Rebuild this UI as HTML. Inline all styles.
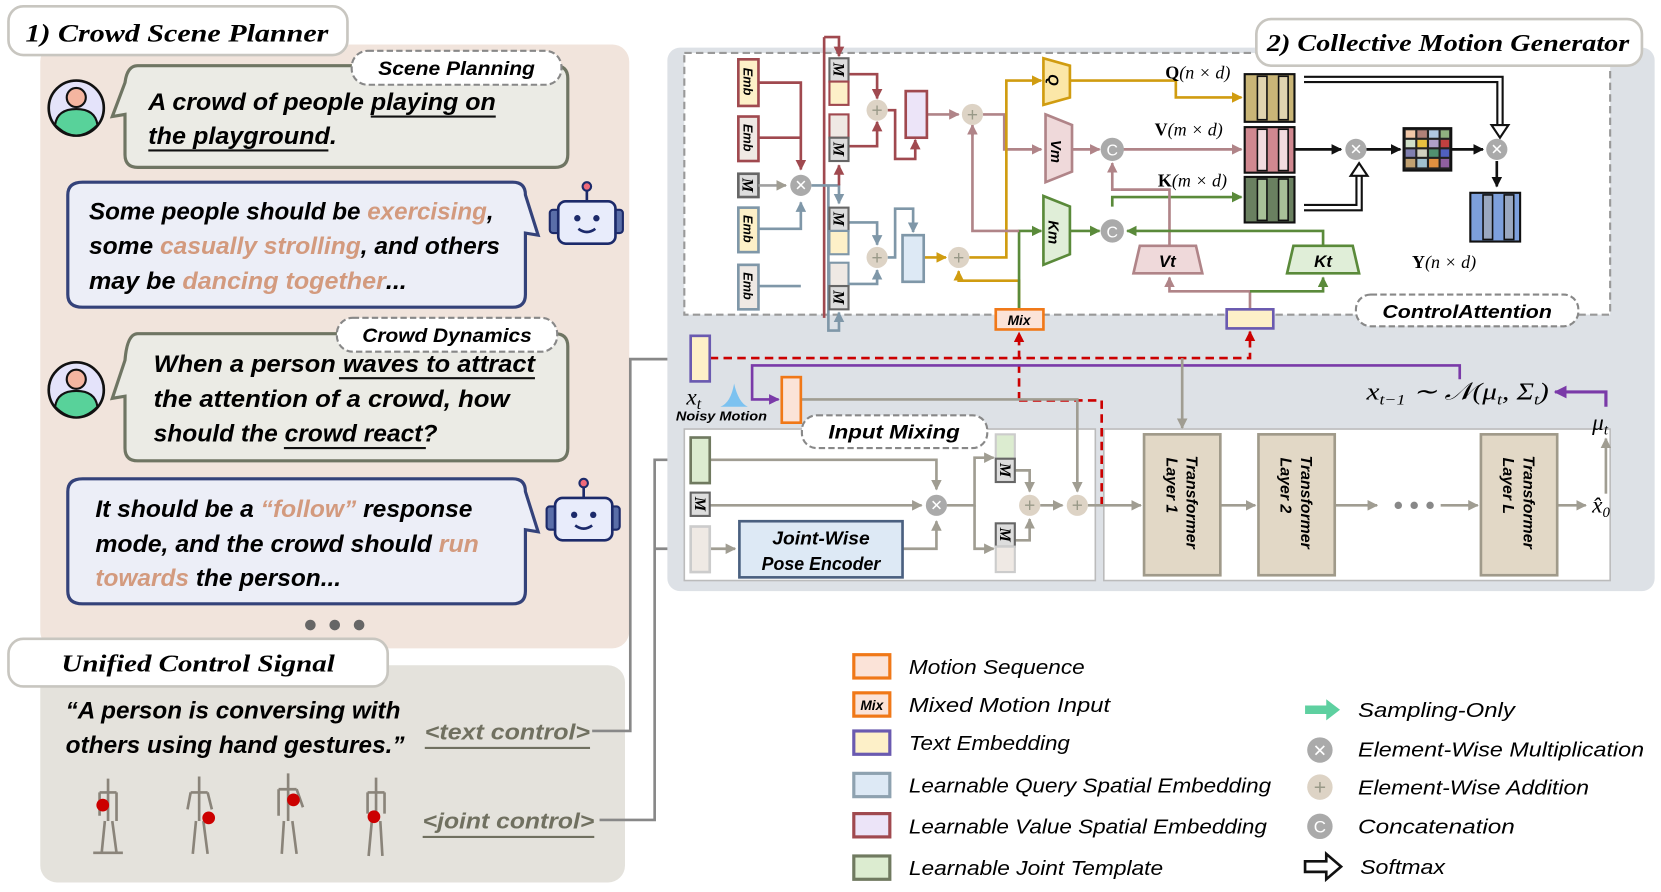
<!DOCTYPE html>
<html><head><meta charset="utf-8"><style>
html,body{margin:0;padding:0;background:#fff;width:1661px;height:892px;overflow:hidden}
svg{display:block}
.t{font-family:"Liberation Sans",sans-serif;font-style:italic;font-weight:bold}
.ts{font-family:"Liberation Serif",serif;font-style:italic;font-weight:bold}
.n{font-family:"Liberation Sans",sans-serif;font-style:italic}
.s{font-family:"Liberation Serif",serif}
.m{font-family:"Liberation Serif",serif;font-style:italic;font-weight:bold}
</style></head><body>
<svg width="1661" height="892" viewBox="0 0 1568 842" preserveAspectRatio="none" xmlns="http://www.w3.org/2000/svg">
<defs>
<marker id="ar" viewBox="0 0 10 10" refX="9" refY="5" markerWidth="4" markerHeight="4" orient="auto"><path d="M0,0L10,5L0,10z" fill="#a0494f"/></marker>
<marker id="ab" viewBox="0 0 10 10" refX="9" refY="5" markerWidth="4" markerHeight="4" orient="auto"><path d="M0,0L10,5L0,10z" fill="#7f97a8"/></marker>
<marker id="ay" viewBox="0 0 10 10" refX="9" refY="5" markerWidth="4" markerHeight="4" orient="auto"><path d="M0,0L10,5L0,10z" fill="#d09c10"/></marker>
<marker id="ag" viewBox="0 0 10 10" refX="9" refY="5" markerWidth="4" markerHeight="4" orient="auto"><path d="M0,0L10,5L0,10z" fill="#5a8a3a"/></marker>
<marker id="am" viewBox="0 0 10 10" refX="9" refY="5" markerWidth="4" markerHeight="4" orient="auto"><path d="M0,0L10,5L0,10z" fill="#b08488"/></marker>
<marker id="aw" viewBox="0 0 10 10" refX="9" refY="5" markerWidth="4" markerHeight="4" orient="auto"><path d="M0,0L10,5L0,10z" fill="#a09d92"/></marker>
<marker id="ak" viewBox="0 0 10 10" refX="9" refY="5" markerWidth="4" markerHeight="4" orient="auto"><path d="M0,0L10,5L0,10z" fill="#111"/></marker>
<marker id="ap" viewBox="0 0 10 10" refX="9" refY="5" markerWidth="4" markerHeight="4" orient="auto"><path d="M0,0L10,5L0,10z" fill="#7a3aa8"/></marker>
<marker id="ad" viewBox="0 0 10 10" refX="9" refY="5" markerWidth="4" markerHeight="4" orient="auto"><path d="M0,0L10,5L0,10z" fill="#c00"/></marker>
<marker id="ae" viewBox="0 0 10 10" refX="9" refY="5" markerWidth="4" markerHeight="4" orient="auto"><path d="M0,0L10,5L0,10z" fill="#888"/></marker>
</defs>

<!-- LEFT PANEL -->
<rect x="38" y="42" width="556" height="570" rx="16" fill="#f1e4dc"/>
<rect x="38" y="628" width="552" height="205" rx="16" fill="#e4e2dc"/>
<rect x="8" y="6" width="320" height="46" rx="14" fill="#fff" stroke="#c8c6c0" stroke-width="2.5"/>
<text x="24" y="39" class="ts" font-size="24" textLength="286" lengthAdjust="spacingAndGlyphs">1) Crowd Scene Planner</text>

<!-- bubble 1 -->
<path d="M130,62 H524 Q536,62 536,74 V146 Q536,158 524,158 H130 Q118,158 118,146 V108 L106,110 L118,78 Q120,62 130,62z" fill="#ebebe5" stroke="#6f7563" stroke-width="3"/>
<rect x="332" y="48" width="198" height="32" rx="15" fill="#fff" stroke="#888" stroke-width="2" stroke-dasharray="6,3"/>
<text x="431" y="71" class="t" font-size="18" text-anchor="middle" textLength="148" lengthAdjust="spacingAndGlyphs">Scene Planning</text>
<text x="140" y="104" class="t" font-size="23" textLength="328" lengthAdjust="spacingAndGlyphs">A crowd of people playing on</text>
<text x="140" y="136" class="t" font-size="23" textLength="178" lengthAdjust="spacingAndGlyphs">the playground.</text>
<line x1="350" y1="110" x2="468" y2="110" stroke="#111" stroke-width="2"/>
<line x1="140" y1="142" x2="310" y2="142" stroke="#111" stroke-width="2"/>

<g id="av1"><circle cx="72" cy="102" r="26" fill="#e4e3fa" stroke="#111" stroke-width="2.5"/>
<circle cx="72" cy="92" r="9" fill="#f4b5a0" stroke="#111" stroke-width="2"/>
<path d="M52,118 Q54,103 72,103 Q90,103 92,118 Q82,128 72,128 Q62,128 52,118z" fill="#58d29a" stroke="#111" stroke-width="2"/></g>
<use href="#av1" y="266"/>

<!-- bubble 2 -->
<path d="M78,172 H484 Q496,172 496,184 L508,222 L496,220 V278 Q496,290 484,290 H78 Q64,290 64,278 V184 Q64,172 78,172z" fill="#eceef7" stroke="#34427a" stroke-width="3"/>
<text x="84" y="207" class="t" font-size="23" textLength="382" lengthAdjust="spacingAndGlyphs">Some people should be <tspan fill="#d39a7e">exercising</tspan>,</text>
<text x="84" y="240" class="t" font-size="23" textLength="388" lengthAdjust="spacingAndGlyphs">some <tspan fill="#d39a7e">casually strolling</tspan>, and others</text>
<text x="84" y="273" class="t" font-size="23" textLength="300" lengthAdjust="spacingAndGlyphs">may be <tspan fill="#d39a7e">dancing together</tspan>...</text>

<g id="rb"><line x1="554" y1="178" x2="554" y2="192" stroke="#1c2a6a" stroke-width="2.5"/><circle cx="554" cy="176" r="4" fill="#f06a7a" stroke="#1c2a6a" stroke-width="2"/>
<rect x="519" y="198" width="10" height="22" rx="3" fill="#5a6ea8" stroke="#1c2a6a" stroke-width="2"/>
<rect x="578" y="198" width="10" height="22" rx="3" fill="#5a6ea8" stroke="#1c2a6a" stroke-width="2"/>
<rect x="527" y="190" width="54" height="40" rx="7" fill="#e8ecfb" stroke="#1c2a6a" stroke-width="2.5"/>
<circle cx="545" cy="206" r="3" fill="#1c2a6a"/><circle cx="563" cy="206" r="3" fill="#1c2a6a"/>
<path d="M546,216 Q554,222 562,216" fill="none" stroke="#1c2a6a" stroke-width="2.5"/></g>
<use href="#rb" x="-3" y="280"/>

<!-- bubble 3 -->
<path d="M130,315 H524 Q536,315 536,327 V423 Q536,435 524,435 H130 Q118,435 118,423 V374 L106,376 L118,340 Q120,315 130,315z" fill="#ebebe5" stroke="#6f7563" stroke-width="3"/>
<rect x="318" y="300" width="208" height="32" rx="15" fill="#fff" stroke="#888" stroke-width="2" stroke-dasharray="6,3"/>
<text x="422" y="323" class="t" font-size="18" text-anchor="middle" textLength="160" lengthAdjust="spacingAndGlyphs">Crowd Dynamics</text>
<text x="145" y="351" class="t" font-size="23" textLength="360" lengthAdjust="spacingAndGlyphs">When a person waves to attract</text>
<text x="145" y="384" class="t" font-size="23" textLength="336" lengthAdjust="spacingAndGlyphs">the attention of a crowd, how</text>
<text x="145" y="417" class="t" font-size="23" textLength="268" lengthAdjust="spacingAndGlyphs">should the crowd react?</text>
<line x1="320" y1="357" x2="505" y2="357" stroke="#111" stroke-width="2"/>
<line x1="268" y1="423" x2="402" y2="423" stroke="#111" stroke-width="2"/>

<!-- bubble 4 -->
<path d="M78,452 H484 Q496,452 496,464 L508,502 L496,500 V558 Q496,570 484,570 H78 Q64,570 64,558 V464 Q64,452 78,452z" fill="#eceef7" stroke="#34427a" stroke-width="3"/>
<text x="90" y="488" class="t" font-size="23" textLength="356" lengthAdjust="spacingAndGlyphs">It should be a <tspan fill="#d39a7e">“follow”</tspan> response</text>
<text x="90" y="521" class="t" font-size="23" textLength="362" lengthAdjust="spacingAndGlyphs">mode, and the crowd should <tspan fill="#d39a7e">run</tspan></text>
<text x="90" y="553" class="t" font-size="23" textLength="232" lengthAdjust="spacingAndGlyphs"><tspan fill="#d39a7e">towards</tspan> the person...</text>

<circle cx="293" cy="590" r="5" fill="#666"/><circle cx="316" cy="590" r="5" fill="#666"/><circle cx="339" cy="590" r="5" fill="#666"/>

<rect x="8" y="603" width="358" height="45" rx="14" fill="#fff" stroke="#c8c6c0" stroke-width="2.5"/>
<text x="58" y="634" class="ts" font-size="23" textLength="258" lengthAdjust="spacingAndGlyphs">Unified Control Signal</text>
<text x="62" y="678" class="t" font-size="23" textLength="316" lengthAdjust="spacingAndGlyphs">“A person is conversing with</text>
<text x="62" y="711" class="t" font-size="23" textLength="320" lengthAdjust="spacingAndGlyphs">others using hand gestures.”</text>
<text x="401" y="698" class="t" font-size="21" fill="#707060" textLength="156" lengthAdjust="spacingAndGlyphs">&lt;text control&gt;</text>
<line x1="401" y1="706" x2="557" y2="706" stroke="#707060" stroke-width="2"/>
<text x="399" y="782" class="t" font-size="21" fill="#707060" textLength="162" lengthAdjust="spacingAndGlyphs">&lt;joint control&gt;</text>
<line x1="399" y1="790" x2="561" y2="790" stroke="#707060" stroke-width="2"/>
<g stroke="#8a847a" stroke-width="2.5" fill="none">
<path d="M102,735 V775 M94,748 H110 M94,748 V770 M110,748 V775 M99,775 L96,805 M106,775 L110,805 M88,805 H116"/>
<path d="M188,733 V775 M180,748 H196 M180,748 L177,764 M196,748 L200,764 M185,775 L182,806 M192,775 L196,806"/>
<path d="M272,730 V775 M263,745 H280 M263,745 V770 M280,745 L286,762 M268,775 L266,806 M276,775 L280,806"/>
<path d="M355,734 V775 M347,748 H363 M347,748 V768 M363,748 V768 M351,775 L348,808 M359,775 L361,808"/>
</g>
<circle cx="97" cy="760" r="6" fill="#c00"/><circle cx="197" cy="772" r="6" fill="#c00"/>
<circle cx="277" cy="755" r="6" fill="#c00"/><circle cx="353" cy="771" r="6" fill="#c00"/>
<path d="M559,690 H595 V339 H650" fill="none" stroke="#888" stroke-width="2.5" marker-end="url(#ae)"/>
<path d="M566,774 H618 V434 H650" fill="none" stroke="#888" stroke-width="2.5" marker-end="url(#ae)"/>
<path d="M618,518 H650" fill="none" stroke="#888" stroke-width="2.5" marker-end="url(#ae)"/>

<!-- RIGHT PANEL -->
<rect x="630" y="45" width="932" height="513" rx="12" fill="#dde1e6"/>
<rect x="646" y="50" width="874" height="247" fill="#fff" stroke="#999" stroke-width="2" stroke-dasharray="7,4"/>
<rect x="646" y="405" width="388" height="143" fill="#fff" stroke="#bbb" stroke-width="1.5"/>
<rect x="1042" y="405" width="478" height="143" fill="#fff" stroke="#bbb" stroke-width="1.5"/>
<rect x="1186" y="18" width="364" height="44" rx="14" fill="#fff" stroke="#c8c6c0" stroke-width="2.5"/>
<text x="1196" y="48" class="ts" font-size="23" textLength="342" lengthAdjust="spacingAndGlyphs">2) Collective Motion Generator</text>

<g font-size="12" class="t">
<rect x="697" y="56" width="19" height="44" fill="#fdf0c8" stroke="#a0494f" stroke-width="2.5"/>
<rect x="697" y="110" width="19" height="42" fill="#efe9e4" stroke="#a0494f" stroke-width="2.5"/>
<rect x="697" y="164" width="19" height="22" fill="#ddd" stroke="#666" stroke-width="2.5"/>
<rect x="697" y="196" width="19" height="42" fill="#fdf0c8" stroke="#7f97a8" stroke-width="2.5"/>
<rect x="697" y="250" width="19" height="42" fill="#efe9e4" stroke="#7f97a8" stroke-width="2.5"/>
<text transform="translate(702,64) rotate(90)">Emb</text>
<text transform="translate(702,117) rotate(90)">Emb</text>
<text transform="translate(702,203) rotate(90)">Emb</text>
<text transform="translate(702,257) rotate(90)">Emb</text>
<text transform="translate(701,168) rotate(90)" class="m" font-size="15">M</text>
</g>
<g fill="none" stroke-width="2.5">
<path d="M716,78 H756 V160" stroke="#a0494f" marker-end="url(#ar)"/>
<path d="M716,130 H756" stroke="#a0494f"/>
<path d="M716,216 H756 V191" stroke="#7f97a8" marker-end="url(#ab)"/>
<path d="M716,270 H756" stroke="#7f97a8"/>
<path d="M716,175 H742" stroke="#a0a0a0" marker-end="url(#aw)"/>
<path d="M778,35 V300" stroke="#a0494f"/>
<path d="M778,35 H792 V53" stroke="#a0494f" marker-end="url(#ar)"/>
<path d="M766,175 H792 V192" stroke="#7f97a8" marker-end="url(#ab)"/>
<path d="M792,175 V156" stroke="#a0494f" marker-end="url(#ar)"/>
<path d="M782,175 V312 H792 V295" stroke="#7f97a8" marker-end="url(#ab)"/>
<path d="M801,70 H828 V93" stroke="#a0494f" marker-end="url(#ar)"/>
<path d="M801,138 H828 V115" stroke="#a0494f" marker-end="url(#ar)"/>
<path d="M838,104 H845 V150 H864 V132" stroke="#a0494f" marker-end="url(#ar)"/>
<path d="M875,108 H905" stroke="#b08488" marker-end="url(#am)"/>
<path d="M928,108 H948 V141 H983" stroke="#b08488" marker-end="url(#am)"/>
<path d="M801,210 H828 V231" stroke="#7f97a8" marker-end="url(#ab)"/>
<path d="M801,268 H828 V255" stroke="#7f97a8" marker-end="url(#ab)"/>
<path d="M838,243 H845 V197 H862 V219" stroke="#7f97a8" marker-end="url(#ab)"/>
<path d="M872,243 H893" stroke="#d09c10" marker-end="url(#ay)"/>
<path d="M915,243 H950 V76 H983" stroke="#d09c10" marker-end="url(#ay)"/>
<path d="M962,292 V265 H905 V256" stroke="#d09c10" marker-end="url(#ay)"/>
<path d="M962,292 V218 H983" stroke="#5a8a3a" marker-end="url(#ag)"/>
<path d="M918,120 V218 H962" stroke="#b08488"/>
<path d="M918,128 V118" stroke="#b08488" marker-end="url(#am)"/>
<path d="M1012,141 H1038" stroke="#b08488" marker-end="url(#am)"/>
<path d="M1010,218 H1038" stroke="#5a8a3a" marker-end="url(#ag)"/>
<path d="M1010,76 H1110 V92 H1172" stroke="#d09c10" marker-end="url(#ay)"/>
<path d="M1060,141 H1172" stroke="#b08488" marker-end="url(#am)"/>
<path d="M1050,195 V186 H1172" stroke="#5a8a3a" marker-end="url(#ag)"/>
<path d="M1104,232 V179 H1050 V154" stroke="#b08488" marker-end="url(#am)"/>
<path d="M1249,232 V218 H1064" stroke="#5a8a3a" marker-end="url(#ag)"/>
<path d="M1180,292 V275 H1104 V262" stroke="#b08488" marker-end="url(#am)"/>
<path d="M1180,275 H1249 V262" stroke="#5a8a3a" marker-end="url(#ag)"/>
<path d="M1222,141 H1266" stroke="#111" marker-end="url(#ak)"/>
<path d="M1290,141 H1322" stroke="#111" marker-end="url(#ak)"/>
<path d="M1370,141 H1400" stroke="#111" marker-end="url(#ak)"/>
<path d="M1413,152 V176" stroke="#111" marker-end="url(#ak)"/>
</g>
<path d="M1231,75 H1416 V118" fill="none" stroke="#111" stroke-width="7"/>
<path d="M1231,75 H1416 V118" fill="none" stroke="#fff" stroke-width="3"/>
<path d="M1408,118 L1424,118 L1416,130z" fill="#fff" stroke="#111" stroke-width="2"/>
<path d="M1231,196 H1283 V166" fill="none" stroke="#111" stroke-width="7"/>
<path d="M1231,196 H1283 V166" fill="none" stroke="#fff" stroke-width="3"/>
<path d="M1275,166 L1291,166 L1283,154z" fill="#fff" stroke="#111" stroke-width="2"/>

<g class="m" font-size="15">
<rect x="783" y="55" width="18" height="22" fill="#ddd" stroke="#666" stroke-width="2"/><rect x="783" y="77" width="18" height="22" fill="#fdf0c8" stroke="#a0494f" stroke-width="2"/>
<rect x="783" y="108" width="18" height="22" fill="#efe9e4" stroke="#a0494f" stroke-width="2"/><rect x="783" y="130" width="18" height="22" fill="#ddd" stroke="#666" stroke-width="2"/>
<rect x="783" y="196" width="18" height="22" fill="#ddd" stroke="#666" stroke-width="2"/><rect x="783" y="218" width="18" height="22" fill="#fdf0c8" stroke="#7f97a8" stroke-width="2"/>
<rect x="783" y="248" width="18" height="22" fill="#efe9e4" stroke="#7f97a8" stroke-width="2"/><rect x="783" y="270" width="18" height="22" fill="#ddd" stroke="#666" stroke-width="2"/>
<text transform="translate(787,59) rotate(90)">M</text><text transform="translate(787,134) rotate(90)">M</text>
<text transform="translate(787,200) rotate(90)">M</text><text transform="translate(787,274) rotate(90)">M</text>
</g>
<rect x="855" y="86" width="20" height="44" fill="#ece4f8" stroke="#a0494f" stroke-width="2.5"/>
<rect x="852" y="222" width="20" height="44" fill="#dde9f5" stroke="#7f97a8" stroke-width="2.5"/>

<g font-family="Liberation Sans" text-anchor="middle" fill="#fff">
<circle cx="756" cy="175" r="10" fill="#aaa"/><text x="756" y="180" font-size="14">✕</text>
<circle cx="828" cy="104" r="10" fill="#ddd3c5"/><text x="828" y="110" font-size="18" fill="#998">+</text>
<circle cx="828" cy="243" r="10" fill="#ddd3c5"/><text x="828" y="249" font-size="18" fill="#998">+</text>
<circle cx="918" cy="108" r="10" fill="#ddd3c5"/><text x="918" y="114" font-size="18" fill="#998">+</text>
<circle cx="905" cy="243" r="10" fill="#ddd3c5"/><text x="905" y="249" font-size="18" fill="#998">+</text>
<circle cx="1050" cy="141" r="11" fill="#aaa"/><text x="1050" y="147" font-size="15">C</text>
<circle cx="1050" cy="218" r="11" fill="#aaa"/><text x="1050" y="224" font-size="15">C</text>
<circle cx="1280" cy="141" r="10" fill="#aaa"/><text x="1280" y="146" font-size="14">✕</text>
<circle cx="1413" cy="141" r="10" fill="#aaa"/><text x="1413" y="146" font-size="14">✕</text>
<circle cx="884" cy="477" r="10" fill="#aaa"/><text x="884" y="482" font-size="14">✕</text>
<circle cx="972" cy="477" r="10" fill="#ddd3c5"/><text x="972" y="483" font-size="18" fill="#998">+</text>
<circle cx="1017" cy="477" r="10" fill="#ddd3c5"/><text x="1017" y="483" font-size="18" fill="#998">+</text>
</g>

<path d="M985,55 L1010,62 V92 L985,99z" fill="#fbe7a8" stroke="#d09c10" stroke-width="2.5"/>
<text transform="translate(990,70) rotate(90)" class="t" font-size="14">Q</text>
<path d="M987,108 L1012,118 V162 L987,172z" fill="#efd9da" stroke="#b08488" stroke-width="2.5"/>
<text transform="translate(992,132) rotate(90)" class="t" font-size="14">Vm</text>
<path d="M985,185 L1010,195 V240 L985,250z" fill="#e0eed8" stroke="#5a8a3a" stroke-width="2.5"/>
<text transform="translate(990,208) rotate(90)" class="t" font-size="14">Km</text>
<path d="M1076,232 H1129 L1135,258 H1070z" fill="#efd9da" stroke="#b08488" stroke-width="2.5"/>
<text x="1102" y="252" class="t" font-size="16" text-anchor="middle">Vt</text>
<path d="M1221,232 H1277 L1283,258 H1215z" fill="#e0eed8" stroke="#5a8a3a" stroke-width="2.5"/>
<text x="1249" y="252" class="t" font-size="16" text-anchor="middle">Kt</text>

<g stroke="#111" stroke-width="2">
<rect x="1175" y="70" width="47" height="45" fill="#c9b577"/>
<rect x="1187" y="72" width="9" height="41" fill="#e0d4b0" stroke-width="1.5"/><rect x="1207" y="72" width="9" height="41" fill="#e0d4b0" stroke-width="1.5"/>
<rect x="1175" y="120" width="47" height="43" fill="#d08890"/>
<rect x="1187" y="122" width="9" height="39" fill="#f2dcdf" stroke-width="1.5"/><rect x="1207" y="122" width="9" height="39" fill="#f2dcdf" stroke-width="1.5"/>
<rect x="1175" y="167" width="47" height="43" fill="#6a8060"/>
<rect x="1187" y="169" width="9" height="39" fill="#a8c098" stroke-width="1.5"/><rect x="1207" y="169" width="9" height="39" fill="#a8c098" stroke-width="1.5"/>
<rect x="1388" y="182" width="47" height="46" fill="#7da0dc"/>
<rect x="1400" y="184" width="9" height="42" fill="#9aa8c0" stroke-width="1.5"/><rect x="1420" y="184" width="9" height="42" fill="#9aa8c0" stroke-width="1.5"/>
<rect x="1325" y="121" width="45" height="40" fill="#222"/>
</g>
<g>
<rect x="1327" y="123" width="9" height="7" fill="#f2c8a8"/><rect x="1338" y="123" width="9" height="7" fill="#b08078"/><rect x="1349" y="123" width="9" height="7" fill="#b0c8e0"/><rect x="1360" y="123" width="8" height="7" fill="#90b080"/>
<rect x="1327" y="132" width="9" height="7" fill="#d0e0c8"/><rect x="1338" y="132" width="9" height="7" fill="#e8c040"/><rect x="1349" y="132" width="9" height="7" fill="#b0a0c8"/><rect x="1360" y="132" width="8" height="7" fill="#c04040"/>
<rect x="1327" y="141" width="9" height="7" fill="#8080b0"/><rect x="1338" y="141" width="9" height="7" fill="#d0d0c0"/><rect x="1349" y="141" width="9" height="7" fill="#509070"/><rect x="1360" y="141" width="8" height="7" fill="#5060c0"/>
<rect x="1327" y="150" width="9" height="8" fill="#c0a070"/><rect x="1338" y="150" width="9" height="8" fill="#a0c0d0"/><rect x="1349" y="150" width="9" height="8" fill="#e09040"/><rect x="1360" y="150" width="8" height="8" fill="#9060a0"/>
</g>
<g class="s" font-size="17">
<text x="1100" y="74"><tspan font-weight="bold">Q</tspan><tspan font-style="italic">(n × d)</tspan></text>
<text x="1090" y="128"><tspan font-weight="bold">V</tspan><tspan font-style="italic">(m × d)</tspan></text>
<text x="1093" y="176"><tspan font-weight="bold">K</tspan><tspan font-style="italic">(m × d)</tspan></text>
<text x="1333" y="253"><tspan font-weight="bold">Y</tspan><tspan font-style="italic">(n × d)</tspan></text>
</g>

<rect x="1280" y="278" width="210" height="30" rx="14" fill="#fff" stroke="#888" stroke-width="2" stroke-dasharray="6,3"/>
<text x="1385" y="300" class="t" font-size="17" text-anchor="middle" textLength="160" lengthAdjust="spacingAndGlyphs">ControlAttention</text>
<rect x="940" y="292" width="45" height="19" fill="#fbe3d8" stroke="#f07818" stroke-width="2.5"/>
<text x="962" y="307" class="t" font-size="13" text-anchor="middle">Mix</text>
<rect x="1158" y="292" width="44" height="18" fill="#fdf0c8" stroke="#6a5ab0" stroke-width="2.5"/>

<path d="M670,338 H1180 V313" fill="none" stroke="#c00" stroke-width="2.5" stroke-dasharray="8,5" marker-end="url(#ad)"/>
<path d="M962,378 V314" fill="none" stroke="#c00" stroke-width="2.5" stroke-dasharray="8,5" marker-end="url(#ad)"/>
<path d="M962,378 H1040 V477" fill="none" stroke="#c00" stroke-width="2.5" stroke-dasharray="8,5"/>
<path d="M1378,358 V345 H710 V377 H735" fill="none" stroke="#7a3aa8" stroke-width="2.5" marker-end="url(#ap)"/>
<path d="M1516,384 V370 H1468" fill="none" stroke="#7a3aa8" stroke-width="3" marker-end="url(#ap)"/>
<path d="M1116,338 V404" fill="none" stroke="#a09d92" stroke-width="2.5" marker-end="url(#aw)"/>
<path d="M756,377 H1017 V464" fill="none" stroke="#a09d92" stroke-width="2.5" marker-end="url(#aw)"/>
<rect x="652" y="317" width="18" height="43" fill="#fdf0c8" stroke="#6a5ab0" stroke-width="2.5"/>
<rect x="738" y="356" width="18" height="43" fill="#fbe3d8" stroke="#f07818" stroke-width="2.5"/>
<text x="648" y="382" class="s" font-style="italic" font-size="22">x<tspan font-size="15" dy="4">t</tspan></text>
<path d="M680,384 Q690,380 693,362 Q697,380 706,384z" fill="#7cc2f0"/>
<text x="638" y="397" class="t" font-size="12" textLength="86" lengthAdjust="spacingAndGlyphs">Noisy Motion</text>
<text x="1290" y="377" class="s" font-style="italic" font-size="23" textLength="172" lengthAdjust="spacingAndGlyphs">x<tspan font-size="14" dy="5">t−1</tspan><tspan dy="-5"> ∼ 𝒩(μ</tspan><tspan font-size="14" dy="5">t</tspan><tspan dy="-5">, Σ</tspan><tspan font-size="14" dy="5">t</tspan><tspan dy="-5">)</tspan></text>
<text x="1503" y="406" class="s" font-style="italic" font-size="22">μ<tspan font-size="14" dy="4">t</tspan></text>
<path d="M1516,466 V414" fill="none" stroke="#a09d92" stroke-width="2.5" marker-end="url(#aw)"/>
<text x="1503" y="484" class="s" font-style="italic" font-size="22">x̂<tspan font-size="14" dy="4">0</tspan></text>

<rect x="757" y="392" width="175" height="31" rx="14" fill="#fff" stroke="#888" stroke-width="2" stroke-dasharray="6,3"/>
<text x="844" y="414" class="t" font-size="18" text-anchor="middle" textLength="124" lengthAdjust="spacingAndGlyphs">Input Mixing</text>
<g fill="none" stroke="#a09d92" stroke-width="2.5">
<path d="M670,434 H884 V462" marker-end="url(#aw)"/>
<path d="M670,477 H870" marker-end="url(#aw)"/>
<path d="M670,518 H694" marker-end="url(#aw)"/>
<path d="M852,518 H884 V492" marker-end="url(#aw)"/>
<path d="M894,477 H920 V432 H938" marker-end="url(#aw)"/>
<path d="M920,477 V518 H938" marker-end="url(#aw)"/>
<path d="M958,444 H972 V464" marker-end="url(#aw)"/>
<path d="M958,510 H972 V490" marker-end="url(#aw)"/>
<path d="M982,477 H1003" marker-end="url(#aw)"/>
<path d="M1027,477 H1077" marker-end="url(#aw)"/>
<path d="M1152,477 H1185" marker-end="url(#aw)"/>
<path d="M1260,477 H1300" marker-end="url(#aw)"/>
<path d="M1360,477 H1395" marker-end="url(#aw)"/>
<path d="M1470,477 H1497" marker-end="url(#aw)"/>
</g>
<rect x="652" y="413" width="18" height="43" fill="#dcecd0" stroke="#707a60" stroke-width="2.5"/>
<rect x="652" y="465" width="18" height="22" fill="#ddd" stroke="#666" stroke-width="2"/>
<text transform="translate(656,469) rotate(90)" class="m" font-size="15">M</text>
<rect x="652" y="497" width="18" height="43" fill="#efe9e4" stroke="#ccc" stroke-width="2.5"/>
<rect x="698" y="492" width="154" height="53" fill="#dde9f5" stroke="#4a6080" stroke-width="2.5"/>
<text x="775" y="514" class="t" font-size="17" text-anchor="middle" textLength="92" lengthAdjust="spacingAndGlyphs">Joint-Wise</text>
<text x="775" y="538" class="t" font-size="17" text-anchor="middle" textLength="112" lengthAdjust="spacingAndGlyphs">Pose Encoder</text>
<rect x="940" y="410" width="18" height="23" fill="#dcecd0" stroke="#ccc" stroke-width="2"/>
<rect x="940" y="433" width="18" height="22" fill="#ddd" stroke="#666" stroke-width="2"/>
<rect x="940" y="494" width="18" height="22" fill="#ddd" stroke="#666" stroke-width="2"/>
<rect x="940" y="516" width="18" height="24" fill="#efe9e4" stroke="#ccc" stroke-width="2"/>
<text transform="translate(944,437) rotate(90)" class="m" font-size="15">M</text>
<text transform="translate(944,498) rotate(90)" class="m" font-size="15">M</text>

<g class="t" font-size="15">
<rect x="1080" y="410" width="72" height="133" fill="#e2d8c6" stroke="#a09a8a" stroke-width="2.5"/>
<rect x="1188" y="410" width="72" height="133" fill="#e2d8c6" stroke="#a09a8a" stroke-width="2.5"/>
<rect x="1398" y="410" width="72" height="133" fill="#e2d8c6" stroke="#a09a8a" stroke-width="2.5"/>
<text transform="translate(1120,430) rotate(90)">Transformer</text><text transform="translate(1101,432) rotate(90)">Layer 1</text>
<text transform="translate(1228,430) rotate(90)">Transformer</text><text transform="translate(1209,432) rotate(90)">Layer 2</text>
<text transform="translate(1438,430) rotate(90)">Transformer</text><text transform="translate(1419,432) rotate(90)">Layer L</text>
</g>
<circle cx="1320" cy="477" r="3.5" fill="#888"/><circle cx="1335" cy="477" r="3.5" fill="#888"/><circle cx="1350" cy="477" r="3.5" fill="#888"/>

<g class="n" font-size="19">
<rect x="806" y="618" width="34" height="22" fill="#fbe3d8" stroke="#f07818" stroke-width="3"/>
<text x="858" y="636" textLength="166" lengthAdjust="spacingAndGlyphs">Motion Sequence</text>
<rect x="806" y="654" width="34" height="22" fill="#fbe3d8" stroke="#f07818" stroke-width="3"/>
<text x="823" y="670" class="t" font-size="13" text-anchor="middle">Mix</text>
<text x="858" y="672" textLength="190" lengthAdjust="spacingAndGlyphs">Mixed Motion Input</text>
<rect x="806" y="690" width="34" height="22" fill="#fdf0c8" stroke="#6a5ab0" stroke-width="3"/>
<text x="858" y="708" textLength="152" lengthAdjust="spacingAndGlyphs">Text Embedding</text>
<rect x="806" y="730" width="34" height="22" fill="#dde9f5" stroke="#8ea2b0" stroke-width="3"/>
<text x="858" y="748" textLength="342" lengthAdjust="spacingAndGlyphs">Learnable Query Spatial Embedding</text>
<rect x="806" y="768" width="34" height="22" fill="#ece4f8" stroke="#a0494f" stroke-width="3"/>
<text x="858" y="787" textLength="338" lengthAdjust="spacingAndGlyphs">Learnable Value Spatial Embedding</text>
<rect x="806" y="808" width="34" height="22" fill="#dcecd0" stroke="#707a60" stroke-width="3"/>
<text x="858" y="826" textLength="240" lengthAdjust="spacingAndGlyphs">Learnable Joint Template</text>
<path d="M1232,666 H1252 V660 L1265,670 L1252,680 V674 H1232z" fill="#5ed0a0"/>
<text x="1282" y="677" textLength="148" lengthAdjust="spacingAndGlyphs">Sampling-Only</text>
<circle cx="1246" cy="708" r="12" fill="#aaa"/><text x="1246" y="714" fill="#fff" font-style="normal" font-size="16" text-anchor="middle">✕</text>
<text x="1282" y="714" textLength="270" lengthAdjust="spacingAndGlyphs">Element-Wise Multiplication</text>
<circle cx="1246" cy="743" r="12" fill="#ddd3c5"/><text x="1246" y="750" fill="#998" font-style="normal" font-size="20" text-anchor="middle">+</text>
<text x="1282" y="750" textLength="218" lengthAdjust="spacingAndGlyphs">Element-Wise Addition</text>
<circle cx="1246" cy="780" r="12" fill="#aaa"/><text x="1246" y="786" fill="#fff" font-style="normal" font-size="16" text-anchor="middle">C</text>
<text x="1282" y="787" textLength="148" lengthAdjust="spacingAndGlyphs">Concatenation</text>
<path d="M1232,813 H1252 V806 L1266,818 L1252,830 V823 H1232z" fill="#fff" stroke="#111" stroke-width="2.5"/>
<text x="1284" y="825" textLength="80" lengthAdjust="spacingAndGlyphs">Softmax</text>
</g>
</svg>
</body></html>
